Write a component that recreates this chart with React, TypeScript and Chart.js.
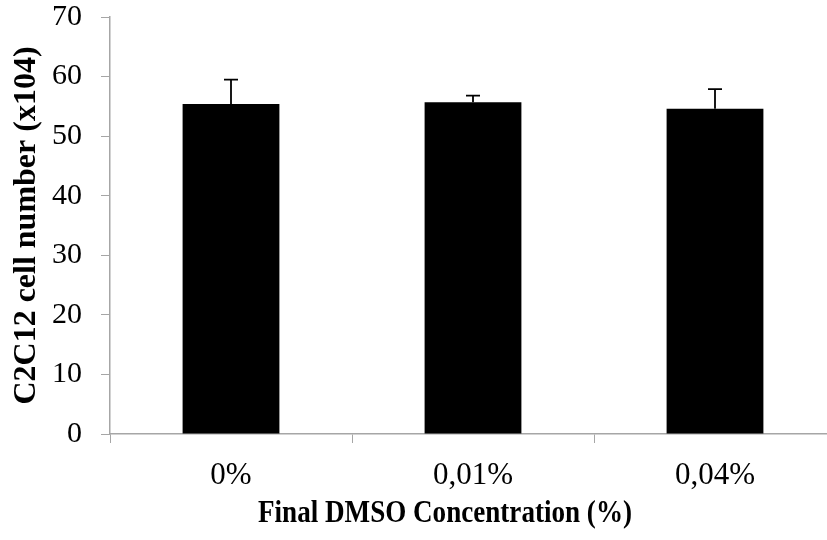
import React, { useEffect, useRef } from "react";
import { Chart, registerables } from "chart.js";

Chart.register(...registerables);

const categories = ["0%", "0,01%", "0,04%"];
const values = [55.4, 55.7, 54.6];
const errors = [4.1, 1.1, 3.3];
const yTicks = [0, 10, 20, 30, 40, 50, 60, 70];
const xTitle = "Final DMSO Concentration (%)";
const yTitle = "C2C12 cell number (x104)";

const AXIS_GRAY = "#a6a6a6";
const FONT = "'Liberation Serif', 'Times New Roman', serif";

const errorBarPlugin = {
  id: "errorBars",
  afterDatasetsDraw(chart: any) {
    const meta = chart.getDatasetMeta(0);
    const yScale = chart.scales.y;
    const ctx = chart.ctx;
    ctx.save();
    ctx.strokeStyle = "#000";
    ctx.lineWidth = 1.8;
    meta.data.forEach((bar: any, i: number) => {
      const x = bar.x;
      const yTop = yScale.getPixelForValue(values[i]);
      const yErr = yScale.getPixelForValue(values[i] + errors[i]);
      ctx.beginPath();
      ctx.moveTo(x, yTop);
      ctx.lineTo(x, yErr);
      ctx.moveTo(x - 7, yErr);
      ctx.lineTo(x + 7, yErr);
      ctx.stroke();
    });
    ctx.restore();
  },
};

const xTitlePlugin = {
  id: "xTitleCondensed",
  afterDraw(chart: any) {
    const ctx = chart.ctx;
    ctx.save();
    ctx.font = `bold 32px ${FONT}`;
    ctx.fillStyle = "#000";
    ctx.textBaseline = "alphabetic";
    ctx.textAlign = "center";
    const w = ctx.measureText(xTitle).width;
    const sx = 374 / w;
    ctx.translate(445, 522);
    ctx.scale(sx, 1);
    ctx.fillText(xTitle, 0, 0);
    ctx.restore();
  },
};

export default function App() {
  const ref = useRef<HTMLCanvasElement | null>(null);
  useEffect(() => {
    document.body.style.overflow = "hidden";
    const canvas = ref.current;
    if (!canvas) return;
    const chart = new Chart(canvas, {
      type: "bar",
      data: {
        labels: categories,
        datasets: [
          {
            data: values,
            backgroundColor: "#000000",
            borderWidth: 0,
            barPercentage: 0.4,
            categoryPercentage: 1,
          },
        ],
      },
      options: {
        animation: false,
        responsive: false,
        layout: { padding: { top: 0, right: 4, left: 0, bottom: 46 } },
        plugins: { legend: { display: false }, tooltip: { enabled: false } },
        scales: {
          x: {
            afterFit: (axis: any) => {
              axis.height = 60;
              axis.paddingLeft = 0;
              axis.paddingRight = 0;
            },
            grid: {
              display: true,
              drawOnChartArea: false,
              drawTicks: true,
              tickLength: 9,
              color: AXIS_GRAY,
              offset: true,
            },
            border: { display: true, color: AXIS_GRAY, width: 1.5 },
            ticks: {
              color: "#000",
              font: { family: FONT, size: 31 },
              padding: 14,
            },
          },
          y: {
            min: 0,
            max: 70,
            afterBuildTicks: (axis: any) => {
              axis.ticks = yTicks.map((v) => ({ value: v }));
            },
            afterFit: (axis: any) => {
              axis.width = 110;
              axis.paddingTop = 17;
              axis.paddingBottom = 0;
            },
            grid: {
              display: true,
              drawOnChartArea: false,
              drawTicks: true,
              tickLength: 9,
              color: AXIS_GRAY,
            },
            border: { display: true, color: AXIS_GRAY, width: 1.5 },
            ticks: {
              color: "#000",
              font: { family: FONT, size: 30 },
              padding: 19,
            },
            title: {
              display: true,
              text: yTitle,
              color: "#000",
              font: { family: FONT, size: 32, weight: "bold" },
              padding: { top: 8, bottom: 5 },
            },
          },
        },
      },
      plugins: [errorBarPlugin, xTitlePlugin],
    });
    return () => chart.destroy();
  }, []);
  return (
    <div style={{ position: "absolute", left: 0, top: 0, width: 840, height: 540 }}>
      <canvas ref={ref} width={840} height={540} style={{ display: "block" }} />
    </div>
  );
}
